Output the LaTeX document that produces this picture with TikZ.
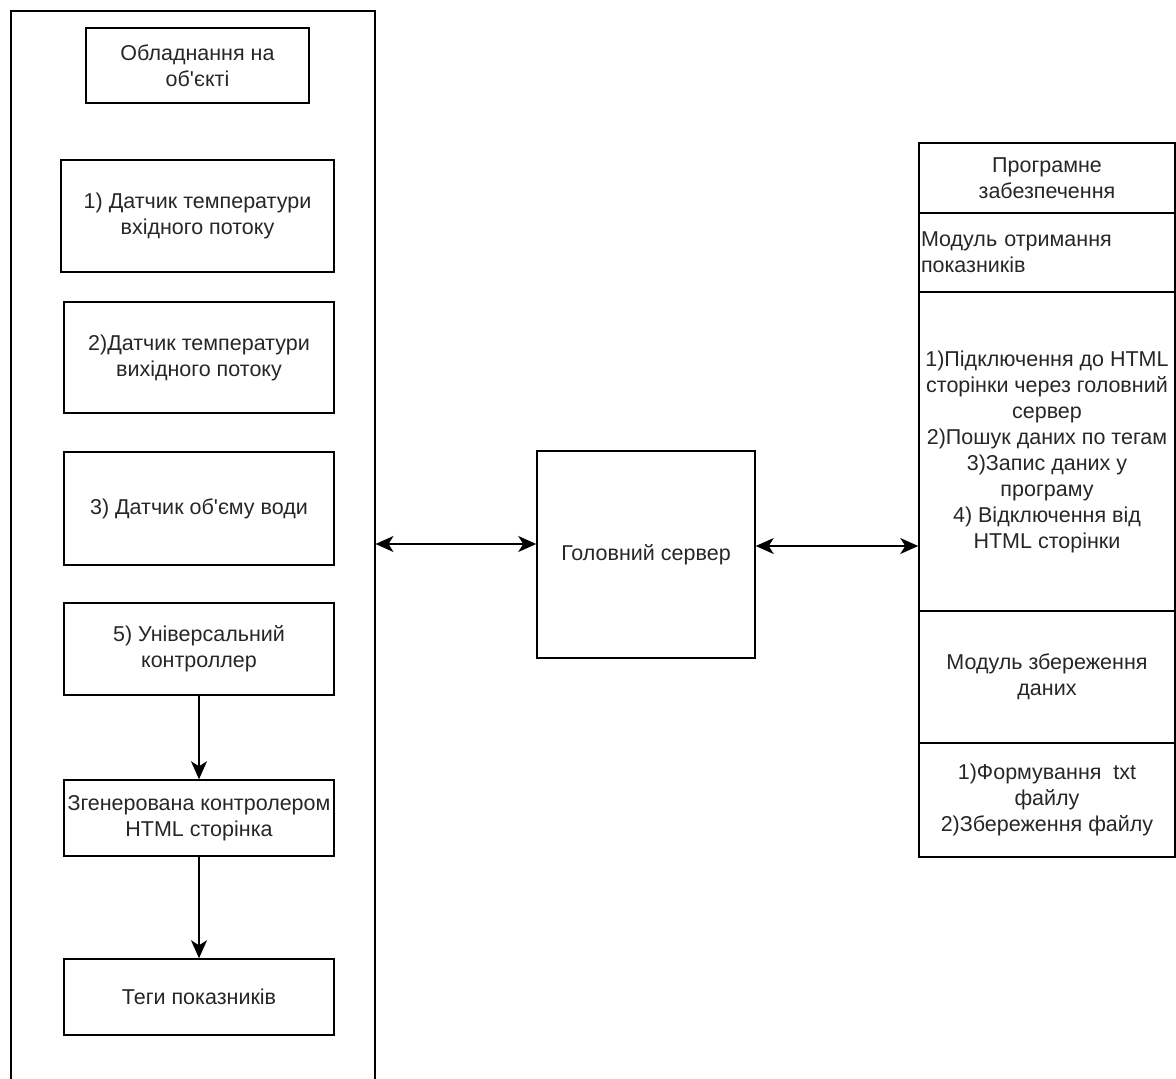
\documentclass[tikz,border=0pt]{standalone}
\usepackage{fontspec}
\setmainfont{Liberation Sans}[Ligatures=TeXOff]
\usepackage{tikz}
\usetikzlibrary{positioning}
\usetikzlibrary{arrows.meta}

\begin{document}
\begin{tikzpicture}[x=1pt, y=-1pt, line width=1.5pt,
    >={Stealth[length=18pt,width=16pt,inset=5pt]},
    every node/.style={font=\fontsize{21.5}{26}\selectfont, align=center, inner sep=1pt, text=black!85},
    box/.style={draw, minimum width=#1},
    box/.default=270pt,
    cell/.style={draw, minimum width=256pt}]

                \useasboundingbox (0,0) rectangle (1176,1079);

                % Nodes
                \node at (10,10) (equip) [draw, anchor=north west, minimum width=364pt, minimum height=1110pt] {};
                \node at (197.5,65.5) (title) [box=223pt, minimum height=75pt] {Обладнання на\\об'єкті};
                \node at (197.5,216) (tin) [box=273pt, minimum height=112pt] {1) Датчик температури\\вхідного потоку};
                \node at (199,357.5) (tout) [box, minimum height=111pt] {2)Датчик температури\\вихідного потоку};
                \node at (199,508.5) (vol) [box, minimum height=113pt] {3) Датчик об'єму води};
                \node at (199,649) (ctrl) [box, minimum height=92pt] {5) Універсальний\\контроллер};
                \node at (199,818) (page) [box, minimum height=76pt] {Згенерована контролером\\HTML сторінка};
                \node at (199,997) (tags) [box, minimum height=76pt] {Теги показників};

                \node at (646,554.5) (srv) [draw, minimum width=218pt, minimum height=207pt] {Головний сервер};

                \node at (1047,178) (soft) [cell, minimum height=70pt] {Програмне\\забезпечення};
                \node at (1047,252.5) (recv) [cell, minimum height=79pt, align=left, text width=252pt] {Модуль отримання\\показників};
                \node at (1047,451.5) (steps) [cell, minimum height=319pt] {1)Підключення до HTML\\сторінки через головний\\сервер\\2)Пошук даних по тегам\\3)Запис даних у\\програму\\4) Відключення від\\HTML сторінки};
                \node at (1047,677) (save) [cell, minimum height=132pt] {Модуль збереження\\даних};
                \node at (1047,800) (fsteps) [cell, minimum height=114pt] {1)Формування\ \ txt\\файлу\\2)Збереження файлу};

                % Arrows
                \draw[<->] (equip.east |- 0,544) -- (srv.west |- 0,544);
                \draw[<->] (srv.east |- 0,546) -- (steps.west |- 0,546);
                \draw[->] (ctrl) -- (page);
                \draw[->] (page) -- (tags);

\end{tikzpicture}
\end{document}
